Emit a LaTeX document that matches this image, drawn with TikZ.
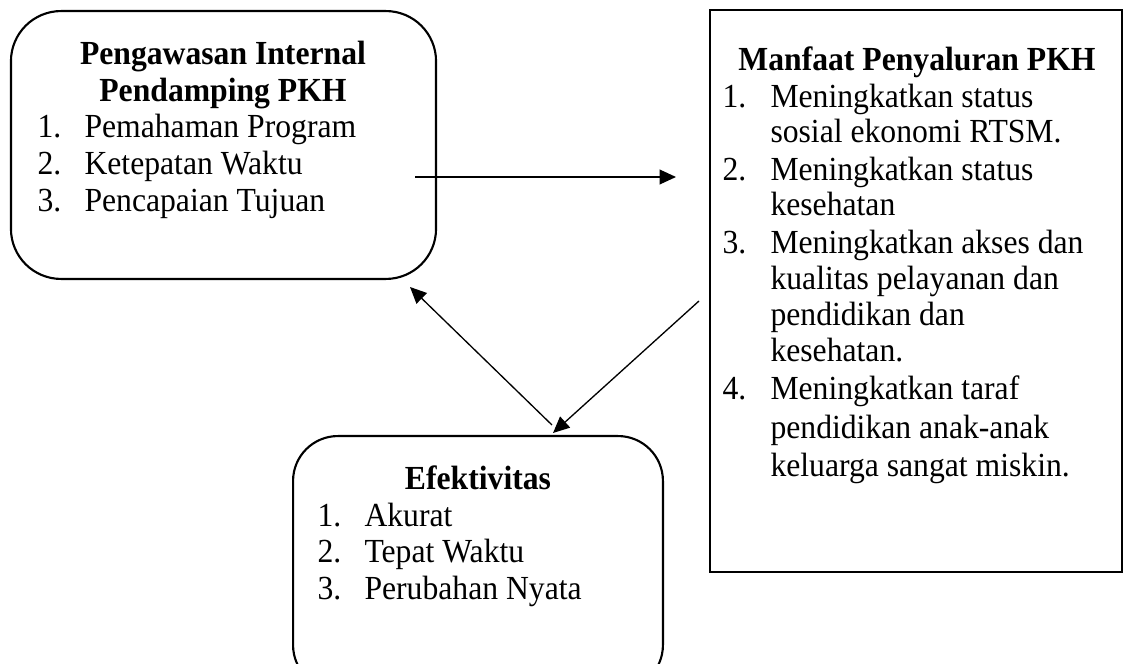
\documentclass[tikz,border=0pt]{standalone}
\usepackage{fontspec}
\setmainfont{Liberation Serif}[FakeStretch=0.94]
\usetikzlibrary{arrows.meta}
\begin{document}
\begin{tikzpicture}[x=0.3785pt,y=-0.3785pt,
  box/.style={draw, line width=0.8pt, inner sep=0pt, outer sep=0pt, shape=rectangle},
  conn/.style={line width=0.5pt, -{Triangle[length=6.2pt,width=5.6pt]}},
  ttl/.style={font=\fontsize{12.75}{15}\selectfont\bfseries, anchor=base, inner sep=0pt},
  txt/.style={font=\fontsize{12.75}{15}\selectfont, anchor=base west, inner sep=0pt}]
\useasboundingbox (0,0) rectangle (1125,664);
\begin{scope}
\clip (0,0) rectangle (1125,664);
\node[box, rounded corners=19pt, minimum width=160.9pt, minimum height=101.4pt] (pengawasan) at (223.5,145) {};
\node[box, minimum width=155.9pt, minimum height=212.7pt] (manfaat) at (916,291) {};
\node[box, rounded corners=17pt, minimum width=140.0pt, minimum height=96.1pt] (efektivitas) at (478,563) {};
\end{scope}
% box 1 text
\node[ttl] (t1a) at (223,65) {Pengawasan Internal};
\node[ttl] (t1b) at (223,102) {Pendamping PKH};
\node[txt] (n11) at (37,138) {1.};
\node[txt] (i11) at (84,138) {Pemahaman Program};
\node[txt] (n12) at (37,175) {2.};
\node[txt] (i12) at (84,175) {Ketepatan Waktu};
\node[txt] (n13) at (37,212) {3.};
\node[txt] (i13) at (84,212) {Pencapaian Tujuan};
% box 2 text
\node[ttl] (t2) at (917,71) {Manfaat Penyaluran PKH};
\node[txt] (n21) at (722,108) {1.};
\node[txt] (i21a) at (770,108) {Meningkatkan status};
\node[txt] (i21b) at (770,143) {sosial ekonomi RTSM.};
\node[txt] (n22) at (722,181) {2.};
\node[txt] (i22a) at (770,181) {Meningkatkan status};
\node[txt] (i22b) at (770,216) {kesehatan};
\node[txt] (n23) at (722,254) {3.};
\node[txt] (i23a) at (770,254) {Meningkatkan akses dan};
\node[txt] (i23b) at (770,290) {kualitas pelayanan dan};
\node[txt] (i23c) at (770,326) {pendidikan dan};
\node[txt] (i23d) at (770,362) {kesehatan.};
\node[txt] (n24) at (722,400) {4.};
\node[txt] (i24a) at (770,400) {Meningkatkan taraf};
\node[txt] (i24b) at (770,439) {pendidikan anak-anak};
\node[txt] (i24c) at (770,477) {keluarga sangat miskin.};
% box 3 text
\node[ttl] (t3) at (478,490) {Efektivitas};
\node[txt] (n31) at (317,527) {1.};
\node[txt] (i31) at (364,527) {Akurat};
\node[txt] (n32) at (317,563) {2.};
\node[txt] (i32) at (364,563) {Tepat Waktu};
\node[txt] (n33) at (317,600) {3.};
\node[txt] (i33) at (364,600) {Perubahan Nyata};
% connectors
\coordinate (a1s) at (415,177);
\coordinate (a1e) at (676,177);
\coordinate (a2s) at (552,425);
\coordinate (a2e) at (410,287);
\coordinate (a3s) at (699,301);
\coordinate (a3e) at (553,433);
\draw[conn] (a1s) -- (a1e);
\draw[conn] (a2s) -- (a2e);
\draw[conn] (a3s) -- (a3e);
\end{tikzpicture}
\end{document}
